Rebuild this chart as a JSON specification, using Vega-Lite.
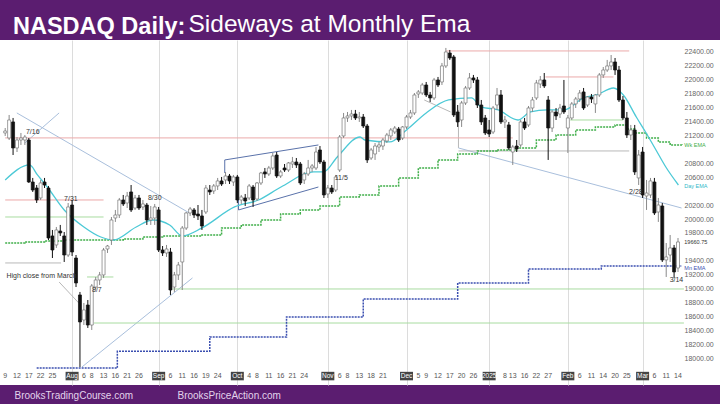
{
"$schema": "https://vega.github.io/schema/vega-lite/v6.json",
"width": 720, "height": 345,
"autosize": {"type": "none"},
"padding": {"top": 40, "bottom": 19, "left": 0, "right": 0},
"background": "#5b1d70",
"view": {"fill": "white", "stroke": null},
"title": {"text": "NASDAQ Daily:", "anchor": "start", "frame": "group", "dx": 13, "offset": -46, "baseline": "alphabetic", "fontSize": 23.5, "fontWeight": "bold", "color": "#ffffff", "font": "Liberation Sans"},
"resolve": {"axis": {"x": "independent"}, "scale": {"color": "independent"}},
"datasets": {
"c": [
{"i":0,"o":21241,"h":21312,"l":21198,"c":21269},
{"i":1,"o":21169,"h":21499,"l":21140,"c":21427},
{"i":2,"o":21399,"h":21456,"l":20925,"c":21026},
{"i":3,"o":21026,"h":21183,"l":20968,"c":21140},
{"i":4,"o":21140,"h":21241,"l":21069,"c":21169},
{"i":5,"o":21140,"h":21212,"l":21069,"c":21183},
{"i":6,"o":21140,"h":21169,"l":20524,"c":20538},
{"i":7,"o":20538,"h":20596,"l":20395,"c":20423},
{"i":8,"o":20452,"h":20495,"l":20237,"c":20280},
{"i":9,"o":20309,"h":20567,"l":20280,"c":20524},
{"i":10,"o":20538,"h":20596,"l":20452,"c":20495},
{"i":11,"o":20452,"h":20481,"l":19706,"c":19735},
{"i":12,"o":19764,"h":19850,"l":19448,"c":19563},
{"i":13,"o":19635,"h":19893,"l":19592,"c":19850},
{"i":14,"o":19835,"h":19922,"l":19764,"c":19807},
{"i":15,"o":19764,"h":19821,"l":19391,"c":19491},
{"i":16,"o":19491,"h":20237,"l":19463,"c":20180},
{"i":17,"o":20208,"h":20280,"l":19477,"c":19534},
{"i":18,"o":19448,"h":19491,"l":19032,"c":19090},
{"i":19,"o":18918,"h":18961,"l":17885,"c":18531},
{"i":20,"o":18559,"h":18803,"l":18487,"c":18703},
{"i":21,"o":18774,"h":18846,"l":18445,"c":18487},
{"i":22,"o":18487,"h":19075,"l":18416,"c":19047},
{"i":23,"o":19032,"h":19176,"l":18989,"c":19133},
{"i":24,"o":19133,"h":19248,"l":19061,"c":19205},
{"i":25,"o":19205,"h":19592,"l":19162,"c":19563},
{"i":26,"o":19577,"h":19635,"l":19520,"c":19620},
{"i":27,"o":19706,"h":20036,"l":19635,"c":19993},
{"i":28,"o":20022,"h":20137,"l":19965,"c":20065},
{"i":29,"o":20065,"h":20309,"l":20022,"c":20280},
{"i":30,"o":20280,"h":20352,"l":20194,"c":20223},
{"i":31,"o":20237,"h":20395,"l":20165,"c":20337},
{"i":32,"o":20395,"h":20495,"l":20108,"c":20137},
{"i":33,"o":20165,"h":20352,"l":20137,"c":20309},
{"i":34,"o":20309,"h":20352,"l":20137,"c":20165},
{"i":35,"o":20180,"h":20280,"l":20137,"c":20223},
{"i":36,"o":20208,"h":20237,"l":19922,"c":19993},
{"i":37,"o":19993,"h":20194,"l":19922,"c":20022},
{"i":38,"o":20022,"h":20223,"l":19922,"c":20180},
{"i":39,"o":20137,"h":20180,"l":19534,"c":19563},
{"i":40,"o":19563,"h":19620,"l":19477,"c":19520},
{"i":41,"o":19520,"h":19635,"l":19463,"c":19577},
{"i":42,"o":19534,"h":19592,"l":18918,"c":18989},
{"i":43,"o":19032,"h":19248,"l":18961,"c":19205},
{"i":44,"o":19205,"h":19391,"l":19133,"c":19348},
{"i":45,"o":19391,"h":19907,"l":18989,"c":19878},
{"i":46,"o":19878,"h":20108,"l":19850,"c":20094},
{"i":47,"o":20094,"h":20180,"l":20051,"c":20151},
{"i":48,"o":20137,"h":20165,"l":20022,"c":20065},
{"i":49,"o":20079,"h":20208,"l":19993,"c":20051},
{"i":50,"o":20051,"h":20137,"l":19850,"c":19907},
{"i":51,"o":20108,"h":20495,"l":20079,"c":20452},
{"i":52,"o":20423,"h":20495,"l":20352,"c":20395},
{"i":53,"o":20409,"h":20509,"l":20366,"c":20481},
{"i":54,"o":20481,"h":20596,"l":20423,"c":20553},
{"i":55,"o":20553,"h":20610,"l":20481,"c":20509},
{"i":56,"o":20567,"h":20682,"l":20509,"c":20624},
{"i":57,"o":20624,"h":20653,"l":20509,"c":20553},
{"i":58,"o":20538,"h":20639,"l":20481,"c":20610},
{"i":59,"o":20610,"h":20639,"l":20237,"c":20280},
{"i":60,"o":20280,"h":20352,"l":20223,"c":20323},
{"i":61,"o":20309,"h":20366,"l":20194,"c":20266},
{"i":62,"o":20309,"h":20509,"l":20280,"c":20481},
{"i":63,"o":20466,"h":20495,"l":20180,"c":20280},
{"i":64,"o":20294,"h":20538,"l":20266,"c":20524},
{"i":65,"o":20524,"h":20682,"l":20495,"c":20667},
{"i":66,"o":20682,"h":20739,"l":20596,"c":20653},
{"i":67,"o":20653,"h":20768,"l":20624,"c":20739},
{"i":68,"o":20739,"h":20954,"l":20710,"c":20911},
{"i":69,"o":20925,"h":20968,"l":20596,"c":20624},
{"i":70,"o":20624,"h":20710,"l":20596,"c":20682},
{"i":71,"o":20739,"h":20796,"l":20682,"c":20710},
{"i":72,"o":20710,"h":20825,"l":20682,"c":20811},
{"i":73,"o":20796,"h":20897,"l":20739,"c":20825},
{"i":74,"o":20825,"h":20882,"l":20739,"c":20782},
{"i":75,"o":20796,"h":20825,"l":20495,"c":20524},
{"i":76,"o":20567,"h":20682,"l":20509,"c":20653},
{"i":77,"o":20653,"h":20854,"l":20624,"c":20739},
{"i":78,"o":20739,"h":20796,"l":20682,"c":20768},
{"i":79,"o":20739,"h":21040,"l":20710,"c":20968},
{"i":80,"o":20997,"h":21054,"l":20796,"c":20825},
{"i":81,"o":20825,"h":20854,"l":20309,"c":20352},
{"i":82,"o":20366,"h":20495,"l":20309,"c":20452},
{"i":83,"o":20452,"h":20495,"l":20366,"c":20395},
{"i":84,"o":20423,"h":20639,"l":20395,"c":20610},
{"i":85,"o":20710,"h":21212,"l":20682,"c":21183},
{"i":86,"o":21198,"h":21528,"l":21169,"c":21456},
{"i":87,"o":21456,"h":21542,"l":21399,"c":21485},
{"i":88,"o":21485,"h":21571,"l":21427,"c":21513},
{"i":89,"o":21513,"h":21571,"l":21427,"c":21456},
{"i":90,"o":21456,"h":21542,"l":21399,"c":21470},
{"i":91,"o":21470,"h":21513,"l":21312,"c":21341},
{"i":92,"o":21341,"h":21370,"l":20811,"c":20854},
{"i":93,"o":20882,"h":21026,"l":20854,"c":20997},
{"i":94,"o":20940,"h":21097,"l":20854,"c":21054},
{"i":95,"o":21040,"h":21112,"l":20968,"c":21069},
{"i":96,"o":21054,"h":21169,"l":20997,"c":21140},
{"i":97,"o":21126,"h":21241,"l":21097,"c":21212},
{"i":98,"o":21198,"h":21312,"l":21140,"c":21284},
{"i":99,"o":21255,"h":21341,"l":21226,"c":21312},
{"i":100,"o":21298,"h":21327,"l":21112,"c":21140},
{"i":101,"o":21169,"h":21341,"l":21140,"c":21327},
{"i":102,"o":21327,"h":21499,"l":21298,"c":21470},
{"i":103,"o":21470,"h":21571,"l":21442,"c":21528},
{"i":104,"o":21528,"h":21814,"l":21499,"c":21786},
{"i":105,"o":21800,"h":21857,"l":21743,"c":21829},
{"i":106,"o":21814,"h":21958,"l":21786,"c":21929},
{"i":107,"o":21929,"h":21972,"l":21757,"c":21786},
{"i":108,"o":21786,"h":21829,"l":21685,"c":21743},
{"i":109,"o":21743,"h":22030,"l":21714,"c":22001},
{"i":110,"o":22001,"h":22044,"l":21900,"c":21929},
{"i":111,"o":21972,"h":22245,"l":21929,"c":22202},
{"i":112,"o":22202,"h":22460,"l":22173,"c":22402},
{"i":113,"o":22388,"h":22431,"l":22288,"c":22316},
{"i":114,"o":22331,"h":22359,"l":21470,"c":21499},
{"i":115,"o":21542,"h":21642,"l":21327,"c":21399},
{"i":116,"o":21427,"h":21700,"l":21327,"c":21671},
{"i":117,"o":21671,"h":21915,"l":21642,"c":21886},
{"i":118,"o":21886,"h":22101,"l":21857,"c":22030},
{"i":119,"o":22030,"h":22073,"l":21958,"c":22001},
{"i":120,"o":22001,"h":22044,"l":21599,"c":21642},
{"i":121,"o":21642,"h":21714,"l":21356,"c":21399},
{"i":122,"o":21456,"h":21499,"l":21212,"c":21241},
{"i":123,"o":21284,"h":21427,"l":21183,"c":21226},
{"i":124,"o":21255,"h":21628,"l":21226,"c":21599},
{"i":125,"o":21642,"h":21886,"l":21571,"c":21786},
{"i":126,"o":21786,"h":21857,"l":21370,"c":21399},
{"i":127,"o":21399,"h":21485,"l":21312,"c":21427},
{"i":128,"o":21356,"h":21399,"l":20997,"c":21026},
{"i":129,"o":20968,"h":21069,"l":20782,"c":21040},
{"i":130,"o":21054,"h":21140,"l":20968,"c":21011},
{"i":131,"o":21069,"h":21427,"l":21040,"c":21399},
{"i":132,"o":21399,"h":21456,"l":21284,"c":21312},
{"i":133,"o":21356,"h":21628,"l":21327,"c":21599},
{"i":134,"o":21599,"h":21757,"l":21542,"c":21714},
{"i":135,"o":21743,"h":22001,"l":21714,"c":21958},
{"i":136,"o":21943,"h":22058,"l":21886,"c":22001},
{"i":137,"o":22001,"h":22101,"l":21886,"c":21915},
{"i":138,"o":21714,"h":21771,"l":20854,"c":21312},
{"i":139,"o":21312,"h":21571,"l":21255,"c":21542},
{"i":140,"o":21542,"h":21599,"l":21427,"c":21485},
{"i":141,"o":21513,"h":21657,"l":21456,"c":21599},
{"i":142,"o":21628,"h":22001,"l":21513,"c":21542},
{"i":143,"o":21312,"h":21499,"l":20954,"c":21456},
{"i":144,"o":21456,"h":21685,"l":21427,"c":21657},
{"i":145,"o":21657,"h":21757,"l":21599,"c":21728},
{"i":146,"o":21728,"h":21857,"l":21685,"c":21814},
{"i":147,"o":21829,"h":21886,"l":21571,"c":21599},
{"i":148,"o":21642,"h":21771,"l":21614,"c":21757},
{"i":149,"o":21757,"h":21800,"l":21671,"c":21728},
{"i":150,"o":21657,"h":21800,"l":21528,"c":21786},
{"i":151,"o":21786,"h":22101,"l":21757,"c":22073},
{"i":152,"o":22073,"h":22187,"l":22030,"c":22144},
{"i":153,"o":22144,"h":22288,"l":22116,"c":22202},
{"i":154,"o":22202,"h":22359,"l":22144,"c":22259},
{"i":155,"o":22259,"h":22316,"l":22073,"c":22144},
{"i":156,"o":22144,"h":22202,"l":21685,"c":21714},
{"i":157,"o":21714,"h":21771,"l":21427,"c":21456},
{"i":158,"o":21456,"h":21542,"l":21169,"c":21212},
{"i":159,"o":21212,"h":21356,"l":21140,"c":21284},
{"i":160,"o":21284,"h":21356,"l":20639,"c":20682},
{"i":161,"o":20596,"h":20997,"l":20495,"c":20925},
{"i":162,"o":20968,"h":21040,"l":20309,"c":20352},
{"i":163,"o":20337,"h":20567,"l":20137,"c":20380},
{"i":164,"o":20352,"h":20596,"l":20309,"c":20553},
{"i":165,"o":20538,"h":20596,"l":20065,"c":20094},
{"i":166,"o":20108,"h":20309,"l":19965,"c":20208},
{"i":167,"o":20194,"h":20237,"l":19391,"c":19420},
{"i":168,"o":19420,"h":19663,"l":19176,"c":19463},
{"i":169,"o":19491,"h":19778,"l":19391,"c":19592},
{"i":170,"o":19592,"h":19635,"l":19162,"c":19248},
{"i":171,"o":19305,"h":19735,"l":19248,"c":19678}
],
"lines": [
{"i":2.96,"p":21528,"i2":46.8,"p2":20094,"k":"trend"},
{"i":5.0,"p":21097,"i2":13.7,"p2":21528,"k":"trend"},
{"i":19.5,"p":17885,"i2":47.6,"p2":19162,"k":"trend"},
{"i":13.7,"p":19104,"i2":18.7,"p2":18803,"k":"gray"},
{"i":55.8,"p":20854,"i2":79.6,"p2":21069,"k":"chan"},
{"i":55.8,"p":20854,"i2":55.8,"p2":20667,"k":"chan"},
{"i":59.3,"p":20137,"i2":79.6,"p2":20466,"k":"chan"},
{"i":59.3,"p":20280,"i2":59.3,"p2":20137,"k":"chan"},
{"i":106.5,"p":21714,"i2":113.2,"p2":21542,"k":"gray"},
{"i":115.2,"p":21571,"i2":115.2,"p2":21026,"k":"gray"},
{"i":115.2,"p":21026,"i2":171.9,"p2":20165,"k":"trend"},
{"i":115.2,"p":20983,"i2":158.6,"p2":20983,"k":"gray"},
{"i":0,"p":21170,"i2":129,"p2":21170,"k":"res"},
{"i":0,"p":20280,"i2":25,"p2":20280,"k":"res"},
{"i":112,"p":22417,"i2":158.6,"p2":22417,"k":"res"},
{"i":137.3,"p":22044,"i2":154.6,"p2":22044,"k":"res"},
{"i":143.6,"p":21427,"i2":157,"p2":21427,"k":"sup"},
{"i":42.6,"p":19004,"i2":172.5,"p2":19004,"k":"sup"},
{"i":22.5,"p":18516,"i2":172.5,"p2":18516,"k":"sup"},
{"i":0,"p":20036,"i2":25,"p2":20036,"k":"sup"},
{"i":0,"p":19377,"i2":14.2,"p2":19377,"k":"gray"},
{"i":20.8,"p":19176,"i2":27.5,"p2":19176,"k":"sup"}
],
"ema": [
{"s":"d","i":0,"v":20567},{"s":"d","i":6.2,"v":20782},{"s":"d","i":8.2,"v":20639},{"s":"d","i":10.7,"v":20466},{"s":"d","i":15,"v":20137},{"s":"d","i":20,"v":19893},{"s":"d","i":24.3,"v":19749},{"s":"d","i":27.5,"v":19706},{"s":"d","i":33.3,"v":19893},{"s":"d","i":37.5,"v":19993},{"s":"d","i":41.8,"v":19922},{"s":"d","i":45,"v":19764},{"s":"d","i":50,"v":19879},{"s":"d","i":58.3,"v":20180},{"s":"d","i":64.4,"v":20280},{"s":"d","i":70.1,"v":20466},{"s":"d","i":78.4,"v":20682},{"s":"d","i":80.9,"v":20682},{"s":"d","i":84.4,"v":20897},{"s":"d","i":90.2,"v":21183},{"s":"d","i":91.4,"v":21140},{"s":"d","i":97.7,"v":21112},{"s":"d","i":102,"v":21284},{"s":"d","i":107,"v":21528},{"s":"d","i":112.7,"v":21714},{"s":"d","i":118.5,"v":21743},{"s":"d","i":121,"v":21614},{"s":"d","i":125.3,"v":21571},{"s":"d","i":130.3,"v":21427},{"s":"d","i":133.5,"v":21542},{"s":"d","i":137.8,"v":21571},{"s":"d","i":142,"v":21571},{"s":"d","i":147,"v":21743},{"s":"d","i":150.3,"v":21786},{"s":"d","i":154.6,"v":21886},{"s":"d","i":157.1,"v":21786},{"s":"d","i":160.4,"v":21470},{"s":"d","i":162.9,"v":21241},{"s":"d","i":165.4,"v":20997},{"s":"d","i":167.9,"v":20753},{"s":"d","i":171.1,"v":20495},
{"s":"w","i":0,"v":19663},{"s":"w","i":5,"v":19678},{"s":"w","i":10,"v":19692},{"s":"w","i":15,"v":19706},{"s":"w","i":25,"v":19706},{"s":"w","i":30,"v":19721},{"s":"w","i":35,"v":19749},{"s":"w","i":40,"v":19764},{"s":"w","i":50,"v":19778},{"s":"w","i":55,"v":19879},{"s":"w","i":60,"v":19922},{"s":"w","i":65,"v":19993},{"s":"w","i":70,"v":20079},{"s":"w","i":75,"v":20137},{"s":"w","i":80,"v":20194},{"s":"w","i":85,"v":20323},{"s":"w","i":90,"v":20352},{"s":"w","i":95,"v":20481},{"s":"w","i":100,"v":20596},{"s":"w","i":105,"v":20739},{"s":"w","i":110,"v":20854},{"s":"w","i":115,"v":20940},{"s":"w","i":120,"v":20983},{"s":"w","i":125,"v":20997},{"s":"w","i":130,"v":21026},{"s":"w","i":135,"v":21140},{"s":"w","i":140,"v":21212},{"s":"w","i":145,"v":21284},{"s":"w","i":150,"v":21327},{"s":"w","i":155,"v":21356},{"s":"w","i":158,"v":21298},{"s":"w","i":160,"v":21241},{"s":"w","i":163,"v":21169},{"s":"w","i":166,"v":21112},{"s":"w","i":169,"v":21069},{"s":"w","i":172,"v":21054},
{"s":"m","i":8,"v":17871},{"s":"m","i":28.5,"v":18110},{"s":"m","i":52,"v":18315},{"s":"m","i":71.5,"v":18602},{"s":"m","i":91,"v":18860},{"s":"m","i":115,"v":19090},{"s":"m","i":133,"v":19291},{"s":"m","i":151.5,"v":19334},{"s":"m","i":172,"v":19334}
],
"lab": [
{"i":7,"p":21255,"t":"7/16"},
{"i":16.7,"p":20300,"t":"7/31"},
{"i":38,"p":20309,"t":"8/30"},
{"i":23.3,"p":18989,"t":"8/7"},
{"i":85.4,"p":20596,"t":"11/5"},
{"i":160.3,"p":20395,"t":"2/28"},
{"i":170.6,"p":19133,"t":"3/14"},
{"i":9.2,"p":19190,"t":"High close from March"}
],
"tags": [
{"i":172.6,"p":21069,"t":"Wk EMA","s":"wk"},
{"i":172.6,"p":20480,"t":"Day EMA","s":"day"},
{"i":172.6,"p":19310,"t":"Mn EMA","s":"mn"},
{"i":172.6,"p":19678,"t":"19660.75","s":"px"}
],
"yl": [
{"p":18000},{"p":18200},{"p":18400},{"p":18600},{"p":18800},{"p":19000},{"p":19200},{"p":19400},{"p":19800},{"p":20000},{"p":20200},{"p":20600},{"p":20800},{"p":21200},{"p":21400},{"p":21600},{"p":21800},{"p":22000},{"p":22200},{"p":22400}
],
"ax": [
{"i":0,"t":"9"},{"i":3,"t":"12"},{"i":6,"t":"17"},{"i":9,"t":"22"},{"i":12,"t":"25"},
{"i":20,"t":"6"},{"i":22,"t":"8"},{"i":25,"t":"13"},{"i":28,"t":"16"},{"i":31,"t":"21"},{"i":34,"t":"26"},
{"i":42,"t":"6"},{"i":45,"t":"11"},{"i":48,"t":"16"},{"i":51,"t":"19"},{"i":54,"t":"24"},
{"i":62,"t":"4"},{"i":64,"t":"8"},{"i":67,"t":"11"},{"i":70,"t":"16"},{"i":73,"t":"21"},{"i":76,"t":"24"},
{"i":85,"t":"6"},{"i":87,"t":"8"},{"i":90,"t":"13"},{"i":93,"t":"18"},{"i":96,"t":"21"},
{"i":105,"t":"5"},{"i":107,"t":"9"},{"i":110,"t":"12"},{"i":113,"t":"17"},{"i":116,"t":"20"},{"i":119,"t":"26"},
{"i":127,"t":"8"},{"i":129,"t":"13"},{"i":132,"t":"16"},{"i":135,"t":"22"},{"i":138,"t":"27"},
{"i":146,"t":"6"},{"i":149,"t":"11"},{"i":152,"t":"14"},{"i":155,"t":"20"},{"i":158,"t":"25"},
{"i":165,"t":"6"},{"i":168,"t":"11"},{"i":171,"t":"14"}
],
"mon": [
{"i":17,"t":"Aug"},{"i":39,"t":"Sep"},{"i":59,"t":"Oct"},{"i":82,"t":"Nov"},{"i":102,"t":"Dec"},{"i":123,"t":"2025"},{"i":143,"t":"Feb"},{"i":162,"t":"Mar"}
]
},
"layer": [
{"data": {"name": "lines"},
 "mark": {"type": "rule", "strokeWidth": 1},
 "encoding": {
  "x": {"field": "i", "type": "quantitative", "scale": {"domain": [-0.05, 180.4], "nice": false, "zero": false},
   "axis": {"orient": "top", "title": "Sideways at Monthly Ema", "labels": false, "ticks": false, "domain": false, "grid": false, "titleX": 188, "titleY": -9, "titleAlign": "left", "titleBaseline": "alphabetic", "titleFontSize": 24.5, "titleFontWeight": "normal", "titleColor": "#ffffff", "titleFont": "Liberation Sans"}},
  "x2": {"field": "i2"},
  "y": {"field": "p", "type": "quantitative", "scale": {"domain": [17627, 22574], "nice": false, "zero": false},
   "axis": {"orient": "right", "offset": -32, "labels": false, "ticks": false, "domain": false, "grid": false,
    "title": "BrooksPriceAction.com", "titleAngle": 0, "titleX": -511, "titleY": 355, "titleAlign": "left", "titleBaseline": "middle", "titleFontSize": 10, "titleFontWeight": "normal", "titleColor": "#e3d3ec", "titleFont": "Liberation Sans"}},
  "y2": {"field": "p2"},
  "color": {"field": "k", "type": "nominal", "scale": {"domain": ["trend","chan","res","sup","gray"], "range": ["#a9bfdc","#5a72aa","#eba9a9","#a8dca0","#b8b8b8"]}, "legend": null}
 }},
{"data": {"name": "ema"},
 "transform": [{"filter": "datum.s == 'm'"}],
 "mark": {"type": "line", "color": "#3b4fb0", "strokeWidth": 1.5, "strokeDash": [2, 1], "interpolate": "step-after"},
 "encoding": {
  "x": {"field": "i", "type": "quantitative", "axis": null},
  "y": {"field": "v", "type": "quantitative"}
 }},
{"data": {"name": "ema"},
 "transform": [{"filter": "datum.s == 'w'"}],
 "mark": {"type": "line", "color": "#3fae49", "strokeWidth": 1.5, "strokeDash": [2, 1], "interpolate": "step-after"},
 "encoding": {
  "x": {"field": "i", "type": "quantitative", "axis": null},
  "y": {"field": "v", "type": "quantitative"}
 }},
{"data": {"name": "ema"},
 "transform": [{"filter": "datum.s == 'd'"}],
 "mark": {"type": "line", "color": "#4cc9d6", "strokeWidth": 1.3, "interpolate": "monotone"},
 "encoding": {
  "x": {"field": "i", "type": "quantitative", "axis": null},
  "y": {"field": "v", "type": "quantitative"}
 }},
{"data": {"name": "c"},
 "mark": {"type": "rule", "strokeWidth": 1},
 "encoding": {
  "x": {"field": "i", "type": "quantitative",
   "axis": {"orient": "bottom", "values": [17, 39, 59, 82, 102, 123, 143, 162], "labels": false, "ticks": false, "domain": false, "grid": true, "gridColor": "#dcdcdc", "gridWidth": 1,
    "title": "BrooksTradingCourse.com", "titleX": 14, "titleY": 10, "titleAlign": "left", "titleBaseline": "middle", "titleFontSize": 10, "titleFontWeight": "normal", "titleColor": "#e3d3ec", "titleFont": "Liberation Sans"}},
  "y": {"field": "l", "type": "quantitative"},
  "y2": {"field": "h"},
  "color": {"condition": {"test": "datum.c < datum.o", "value": "#111111"}, "value": "#8a8a8a"}
 }},
{"data": {"name": "c"},
 "mark": {"type": "bar", "size": 3, "strokeWidth": 0.7},
 "encoding": {
  "x": {"field": "i", "type": "quantitative", "axis": null},
  "y": {"field": "o", "type": "quantitative"},
  "y2": {"field": "c"},
  "fill": {"condition": {"test": "datum.c < datum.o", "value": "#111111"}, "value": "#ffffff"},
  "stroke": {"condition": {"test": "datum.c < datum.o", "value": "#111111"}, "value": "#777777"}
 }},
{"data": {"name": "lab"},
 "mark": {"type": "text", "fontSize": 7, "color": "#333333", "font": "Liberation Sans", "baseline": "middle"},
 "encoding": {
  "x": {"field": "i", "type": "quantitative", "axis": null},
  "y": {"field": "p", "type": "quantitative"},
  "text": {"field": "t"}
 }},
{"data": {"name": "tags"},
 "mark": {"type": "text", "fontSize": 5.5, "font": "Liberation Sans", "align": "left", "baseline": "middle"},
 "encoding": {
  "x": {"field": "i", "type": "quantitative", "axis": null},
  "y": {"field": "p", "type": "quantitative"},
  "text": {"field": "t"},
  "color": {"field": "s", "type": "nominal", "scale": {"domain": ["wk","day","mn","px"], "range": ["#3fae49","#30b8c8","#3b4fb0","#333333"]}, "legend": null}
 }},
{"data": {"name": "yl"},
 "mark": {"type": "text", "fontSize": 7, "color": "#666666", "font": "Liberation Sans", "align": "left", "baseline": "middle"},
 "encoding": {
  "x": {"datum": 172.65, "type": "quantitative", "axis": null},
  "y": {"field": "p", "type": "quantitative"},
  "text": {"field": "p", "type": "quantitative", "format": ".2f"}
 }},
{"data": {"name": "ax"},
 "mark": {"type": "text", "fontSize": 7, "color": "#555555", "font": "Liberation Sans", "baseline": "middle"},
 "encoding": {
  "x": {"field": "i", "type": "quantitative", "axis": null},
  "y": {"datum": 17756, "type": "quantitative"},
  "text": {"field": "t"}
 }},
{"data": {"name": "mon"},
 "mark": {"type": "bar", "size": 13, "color": "#444444"},
 "encoding": {
  "x": {"field": "i", "type": "quantitative", "axis": null},
  "y": {"datum": 17816, "type": "quantitative"},
  "y2": {"datum": 17694}
 }},
{"data": {"name": "mon"},
 "mark": {"type": "text", "fontSize": 6.5, "color": "#ffffff", "font": "Liberation Sans", "baseline": "middle"},
 "encoding": {
  "x": {"field": "i", "type": "quantitative", "axis": null},
  "y": {"datum": 17756, "type": "quantitative"},
  "text": {"field": "t"}
 }}
]
}
